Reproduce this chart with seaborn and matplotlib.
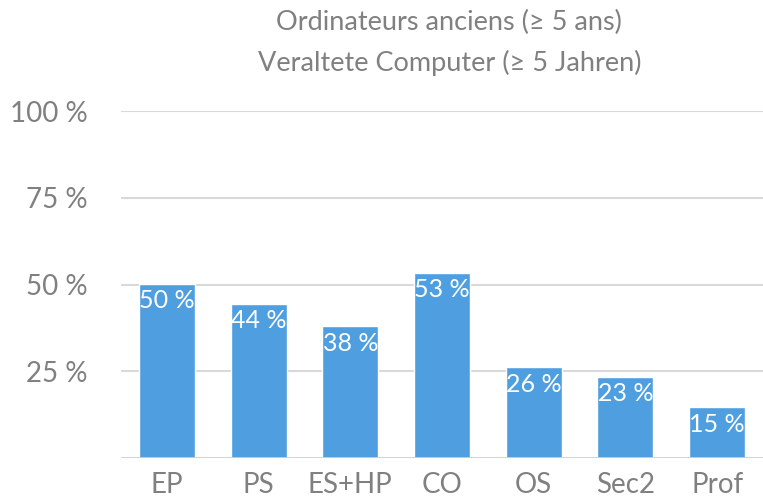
import pandas as pd
import seaborn as sb
import matplotlib.pyplot as plt

# données
categories = ['EP', 'PS', 'ES+HP', 'CO', 'OS', 'Sec2', 'Prof']
values = [50.2, 44.4, 37.9, 53.4, 26.2, 23.4, 14.7]
labels = ['50 %', '44 %', '38 %', '53 %', '26 %', '23 %', '15 %']
yticks = [25, 50, 75, 100]

df = pd.DataFrame({'cat': categories, 'val': values})

sb.set_theme(style='white')
plt.rcParams['font.family'] = ['Lato', 'DejaVu Sans']
grey = '#808080'

fig = plt.figure(figsize=(7.63, 5.0), dpi=100)
ax = fig.add_axes([0.1586, 0.084, 0.8414, 0.694])

sb.barplot(data=df, x='cat', y='val', color='#4f9fe0', saturation=1,
           width=0.61, ax=ax, zorder=3)

for i, (v, lab) in enumerate(zip(values, labels)):
    ax.annotate(lab, xy=(i, v), xytext=(0, -4), textcoords='offset points',
                ha='center', va='top', color='white', fontsize=18)

ax.set_ylim(0, 100)
ax.set_xlim(-0.5, len(categories) - 0.5)
ax.set_yticks(yticks)
ax.set_yticklabels([f'{t} %' for t in yticks])
for t in yticks:
    ax.axhline(t, color='#d9d9d9', lw=1.5, zorder=1)
ax.axhline(0, color='#cfcfcf', lw=2, zorder=4)

for s in ax.spines.values():
    s.set_visible(False)
ax.tick_params(axis='y', length=0, pad=24, labelsize=20, labelcolor=grey)
ax.tick_params(axis='x', length=0, pad=10, labelsize=20, labelcolor=grey)
ax.set_xlabel('')
ax.set_ylabel('')

fig.text(0.589, 0.955, 'Ordinateurs anciens (≥ 5 ans)', ha='center', va='center',
         fontsize=19.5, color=grey)
fig.text(0.589, 0.875, 'Veraltete Computer (≥ 5 Jahren)', ha='center', va='center',
         fontsize=19.5, color=grey)

fig.savefig('out.png', dpi=100)
